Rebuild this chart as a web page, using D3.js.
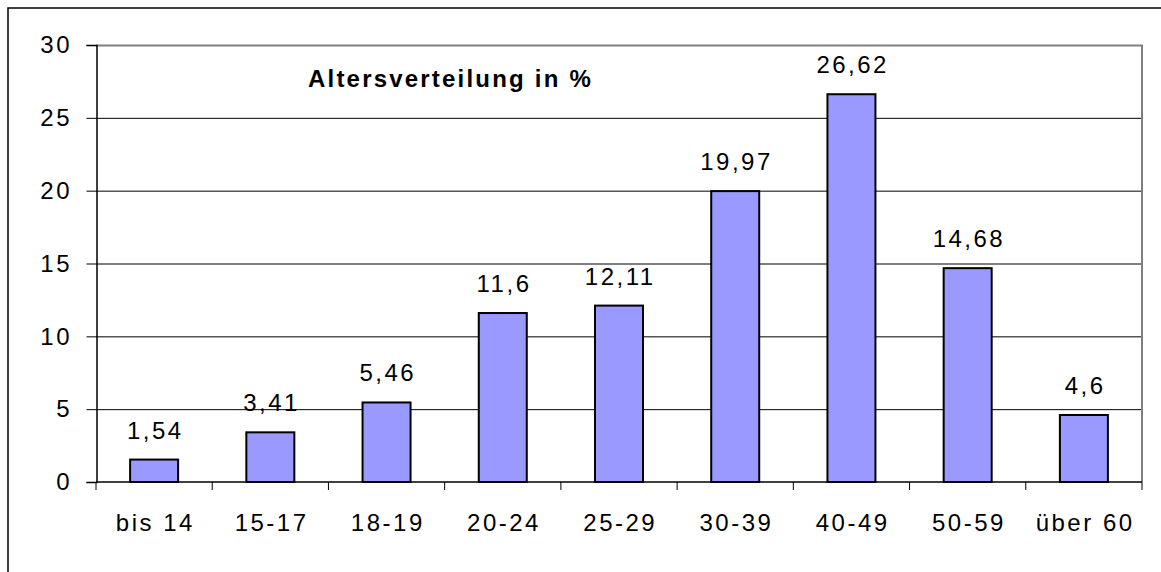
<!DOCTYPE html>
<html>
<head>
<meta charset="utf-8">
<script src="https://cdn.jsdelivr.net/npm/d3@7"></script>
<style>
  html, body { margin: 0; padding: 0; background: #fff; }
  svg text { font-family: "Liberation Sans", Arial, sans-serif; }
</style>
</head>
<body>
<svg id="chart" width="1161" height="572"></svg>
<script>
const categories = ["bis 14", "15-17", "18-19", "20-24", "25-29", "30-39", "40-49", "50-59", "über 60"];
const values = [1.54, 3.41, 5.46, 11.6, 12.11, 19.97, 26.62, 14.68, 4.6];
const yTicks = [0, 5, 10, 15, 20, 25, 30];
const title = "Altersverteilung in %";

const svg = d3.select("#chart");
const W = 1161, H = 572;
const m = { left: 96, top: 45, right: 1142, bottom: 482 };

// outer frame (extends past right & bottom edges)
svg.append("rect").attr("x", 8).attr("y", 8).attr("width", 1300).attr("height", 800)
  .attr("fill", "#fff").attr("stroke", "#000").attr("stroke-width", 1.5);

const x = d3.scaleBand().domain(categories).range([m.left, m.right]).paddingInner(0).paddingOuter(0);
const y = d3.scaleLinear().domain([0, 30]).range([m.bottom, m.top]);

// gridlines
svg.append("g").selectAll("line").data(yTicks.filter(d => d > 0 && d < 30)).join("line")
  .attr("x1", m.left).attr("x2", m.right)
  .attr("y1", d => y(d) + 0.5).attr("y2", d => y(d) + 0.5)
  .attr("stroke", "#000").attr("stroke-width", 1);

// plot border top & right (gray)
svg.append("path")
  .attr("d", `M${m.left},${y(30) + 0.5}H${m.right}V${m.bottom}`)
  .attr("fill", "none").attr("stroke", "#808080").attr("stroke-width", 2);

// bars
const bw = 48;
svg.append("g").selectAll("rect").data(values).join("rect")
  .attr("x", (d, i) => x(categories[i]) + x.bandwidth() / 2 - bw / 2)
  .attr("y", d => y(d))
  .attr("width", bw)
  .attr("height", d => y(0) - y(d))
  .attr("fill", "#9999FF").attr("stroke", "#000").attr("stroke-width", 2);

// y axis
const yAxis = d3.axisLeft(y).tickValues(yTicks).tickSize(10).tickPadding(17).tickFormat(d3.format("d"));
const gy = svg.append("g").attr("transform", `translate(${m.left + 0.5},0)`).call(yAxis);
gy.select(".domain").attr("stroke", "#000").attr("stroke-width", 1.5);
gy.selectAll(".tick line").attr("stroke", "#000").attr("stroke-width", 1);
gy.selectAll(".tick text").attr("font-size", 24).attr("fill", "#000")
  .attr("font-family", "Liberation Sans, Arial, sans-serif")
  .attr("letter-spacing", 2.5).attr("dx", 2.5);

// x axis
const gx = svg.append("g").attr("transform", `translate(0,${m.bottom})`);
gx.append("line").attr("x1", m.left).attr("x2", m.right).attr("y1", 0).attr("y2", 0)
  .attr("stroke", "#000").attr("stroke-width", 1.5);
const bounds = categories.map(c => x(c)).concat([m.right]);
gx.selectAll("line.tk").data(bounds).join("line").attr("class", "tk")
  .attr("x1", d => d).attr("x2", d => d).attr("y1", 0).attr("y2", 8)
  .attr("stroke", "#000").attr("stroke-width", 1);
gx.selectAll("text").data(categories).join("text")
  .attr("x", d => x(d) + x.bandwidth() / 2 + 1.25)
  .attr("y", 49)
  .attr("text-anchor", "middle")
  .attr("font-size", 24).attr("letter-spacing", 2.5).attr("fill", "#000")
  .text(d => d);

// value labels
svg.append("g").selectAll("text").data(values).join("text")
  .attr("x", (d, i) => x(categories[i]) + x.bandwidth() / 2 + 1.25)
  .attr("y", d => y(d) - 21)
  .attr("text-anchor", "middle")
  .attr("font-size", 24).attr("letter-spacing", 2.5).attr("fill", "#000")
  .text(d => String(d).replace(".", ","));

// title
svg.append("text").attr("x", 308).attr("y", 87)
  .attr("font-size", 24).attr("font-weight", "bold").attr("letter-spacing", 2.2)
  .attr("fill", "#000").text(title);
</script>
</body>
</html>
